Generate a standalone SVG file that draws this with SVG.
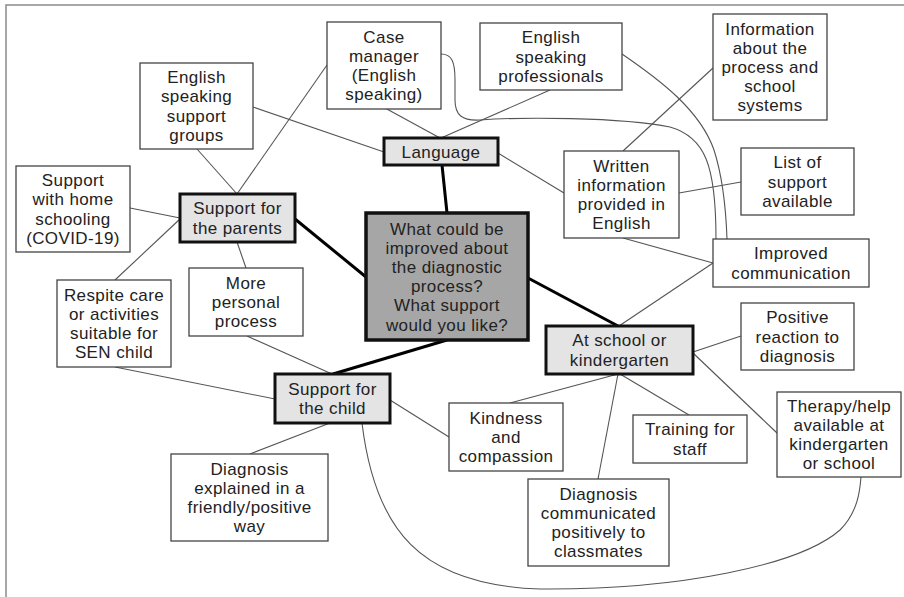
<svg xmlns="http://www.w3.org/2000/svg" width="904" height="597" viewBox="0 0 904 597">
<style>
.bg{fill:#fff}
.frame{fill:none;stroke:#8a8a8a;stroke-width:1.5}
.thin{fill:none;stroke:#555;stroke-width:1.1}
.thick{fill:none;stroke:#000;stroke-width:3}
.box{fill:#fff;stroke:#444;stroke-width:1.3}
.hub{fill:#e4e4e4;stroke:#111;stroke-width:3}
.core{fill:#a6a6a6;stroke:#111;stroke-width:3.5}
text{font-family:"Liberation Sans",Arial,sans-serif;font-size:17px;letter-spacing:0.4px;fill:#222;text-anchor:middle}
</style>
<rect class="bg" x="0" y="0" width="904" height="597"/>
<path class="frame" d="M6,597 L6,5 L904,5"/>
<g id="connectors">
<line class="thick" x1="442" y1="165" x2="447" y2="213"/>
<line class="thick" x1="295" y1="219" x2="366" y2="277"/>
<line class="thick" x1="528" y1="278" x2="618" y2="326"/>
<line class="thick" x1="447" y1="340" x2="333" y2="374"/>
<line class="thin" x1="253" y1="107" x2="384" y2="152"/>
<line class="thin" x1="197" y1="149" x2="237" y2="194"/>
<line class="thin" x1="327" y1="65" x2="237" y2="194"/>
<line class="thin" x1="385" y1="108" x2="440" y2="138"/>
<line class="thin" x1="550" y1="90" x2="441" y2="138"/>
<path class="thin" d="M441,54 C452,54 455,62 455,80 L455,100 C455,115 462,121 480,120 C520,117 620,117 670,127 C705,137 716,165 716,239"/>
<path class="thin" d="M622,54 C660,80 700,110 714,150 C722,175 726,210 727,239"/>
<line class="thin" x1="498" y1="153" x2="564" y2="193"/>
<line class="thin" x1="623" y1="151" x2="713" y2="68"/>
<line class="thin" x1="679" y1="193" x2="741" y2="182"/>
<line class="thin" x1="623" y1="238" x2="713" y2="263"/>
<line class="thin" x1="619" y1="326" x2="713" y2="263"/>
<line class="thin" x1="693" y1="352" x2="741" y2="336"/>
<line class="thin" x1="693" y1="353" x2="777" y2="433"/>
<line class="thin" x1="618" y1="374" x2="510" y2="403"/>
<line class="thin" x1="618" y1="374" x2="598" y2="479"/>
<line class="thin" x1="620" y1="374" x2="689" y2="415"/>
<line class="thin" x1="180" y1="218" x2="130" y2="208"/>
<line class="thin" x1="180" y1="219" x2="115" y2="280"/>
<line class="thin" x1="237" y1="242" x2="246" y2="268"/>
<line class="thin" x1="247" y1="336" x2="332" y2="374"/>
<line class="thin" x1="115" y1="367" x2="275" y2="399"/>
<line class="thin" x1="390" y1="400" x2="449" y2="437"/>
<line class="thin" x1="330" y1="423" x2="250" y2="454"/>
<path class="thin" d="M362,423 C375,530 420,585 540,589 C680,590 800,565 840,530 C858,512 860,490 861,477"/>
</g>
<g id="case-manager"><rect class="box" x="327" y="22" width="114" height="87"/><text><tspan x="384" y="42.7">Case</tspan><tspan x="384" y="61.9">manager</tspan><tspan x="384" y="81.1">(English</tspan><tspan x="384" y="100.3">speaking)</tspan></text></g>
<g id="support-groups"><rect class="box" x="140" y="63" width="113" height="86"/><text><tspan x="196.5" y="83.2">English</tspan><tspan x="196.5" y="102.4">speaking</tspan><tspan x="196.5" y="121.6">support</tspan><tspan x="196.5" y="140.8">groups</tspan></text></g>
<g id="language"><rect class="hub" x="384" y="138" width="114" height="27"/><text x="441" y="157.5">Language</text></g>
<g id="professionals"><rect class="box" x="480" y="23" width="142" height="67"/><text><tspan x="551" y="43.3">English</tspan><tspan x="551" y="62.5">speaking</tspan><tspan x="551" y="81.7">professionals</tspan></text></g>
<g id="information"><rect class="box" x="713" y="14" width="114" height="106"/><text><tspan x="770" y="34.6">Information</tspan><tspan x="770" y="53.8">about the</tspan><tspan x="770" y="73">process and</tspan><tspan x="770" y="92.2">school</tspan><tspan x="770" y="111.4">systems</tspan></text></g>
<g id="written"><rect class="box" x="564" y="151" width="115" height="87"/><text><tspan x="621.5" y="171.7">Written</tspan><tspan x="621.5" y="190.9">information</tspan><tspan x="621.5" y="210.1">provided in</tspan><tspan x="621.5" y="229.3">English</tspan></text></g>
<g id="list-support"><rect class="box" x="741" y="148" width="113" height="67"/><text><tspan x="797.5" y="168.3">List of</tspan><tspan x="797.5" y="187.5">support</tspan><tspan x="797.5" y="206.7">available</tspan></text></g>
<g id="improved"><rect class="box" x="713" y="239" width="156" height="48"/><text><tspan x="791" y="259.4">Improved</tspan><tspan x="791" y="278.6">communication</tspan></text></g>
<g id="positive"><rect class="box" x="741" y="303" width="113" height="67"/><text><tspan x="797.5" y="323.3">Positive</tspan><tspan x="797.5" y="342.5">reaction to</tspan><tspan x="797.5" y="361.7">diagnosis</tspan></text></g>
<g id="school"><rect class="hub" x="546" y="326" width="147" height="48"/><text><tspan x="619.5" y="346.4">At school or</tspan><tspan x="619.5" y="365.6">kindergarten</tspan></text></g>
<g id="center"><rect class="core" x="366" y="213" width="162" height="127"/><text><tspan x="447" y="234.5">What could be</tspan><tspan x="447" y="253.7">improved about</tspan><tspan x="447" y="272.9">the diagnostic</tspan><tspan x="447" y="292.1">process?</tspan><tspan x="447" y="311.3">What support</tspan><tspan x="447" y="330.5">would you like?</tspan></text></g>
<g id="parents"><rect class="hub" x="180" y="194" width="115" height="48"/><text><tspan x="237.5" y="214.4">Support for</tspan><tspan x="237.5" y="233.6">the parents</tspan></text></g>
<g id="home-schooling"><rect class="box" x="16" y="166" width="114" height="86"/><text><tspan x="73" y="186.2">Support</tspan><tspan x="73" y="205.4">with home</tspan><tspan x="73" y="224.6">schooling</tspan><tspan x="73" y="243.8">(COVID-19)</tspan></text></g>
<g id="personal"><rect class="box" x="189" y="268" width="114" height="68"/><text><tspan x="246" y="288.8">More</tspan><tspan x="246" y="308">personal</tspan><tspan x="246" y="327.2">process</tspan></text></g>
<g id="respite"><rect class="box" x="57" y="280" width="114" height="87"/><text><tspan x="114" y="300.7">Respite care</tspan><tspan x="114" y="319.9">or activities</tspan><tspan x="114" y="339.1">suitable for</tspan><tspan x="114" y="358.3">SEN child</tspan></text></g>
<g id="child"><rect class="hub" x="275" y="374" width="115" height="49"/><text><tspan x="332.5" y="394.9">Support for</tspan><tspan x="332.5" y="414.1">the child</tspan></text></g>
<g id="explained"><rect class="box" x="171" y="454" width="157" height="87"/><text><tspan x="249.5" y="474.7">Diagnosis</tspan><tspan x="249.5" y="493.9">explained in a</tspan><tspan x="249.5" y="513.1">friendly/positive</tspan><tspan x="249.5" y="532.3">way</tspan></text></g>
<g id="kindness"><rect class="box" x="449" y="403" width="114" height="68"/><text><tspan x="506" y="423.8">Kindness</tspan><tspan x="506" y="443">and</tspan><tspan x="506" y="462.2">compassion</tspan></text></g>
<g id="training"><rect class="box" x="633" y="415" width="114" height="48"/><text><tspan x="690" y="435.4">Training for</tspan><tspan x="690" y="454.6">staff</tspan></text></g>
<g id="therapy"><rect class="box" x="777" y="392" width="124" height="85"/><text><tspan x="839" y="411.7">Therapy/help</tspan><tspan x="839" y="430.9">available at</tspan><tspan x="839" y="450.1">kindergarten</tspan><tspan x="839" y="469.3">or school</tspan></text></g>
<g id="classmates"><rect class="box" x="528" y="479" width="141" height="87"/><text><tspan x="598.5" y="499.7">Diagnosis</tspan><tspan x="598.5" y="518.9">communicated</tspan><tspan x="598.5" y="538.1">positively to</tspan><tspan x="598.5" y="557.3">classmates</tspan></text></g>
</svg>
